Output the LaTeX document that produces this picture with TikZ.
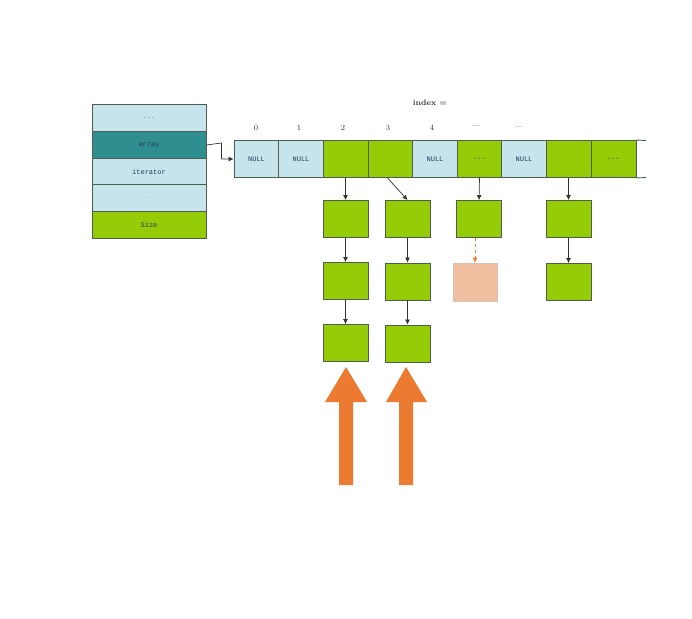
\documentclass[tikz,border=0pt]{standalone}
\usepackage{fontspec}
\setmonofont{Liberation Mono}
\usetikzlibrary{arrows.meta}
\definecolor{lblue}{HTML}{C6E4EC}
\definecolor{teal2}{HTML}{2F8E8E}
\definecolor{lgreen}{HTML}{94CC08}
\definecolor{peach}{HTML}{F0BFA0}
\definecolor{orng}{HTML}{EC7A30}
\definecolor{bord}{HTML}{4E5E4E}
\definecolor{txt}{HTML}{2A3A5A}
\tikzset{
  cellbox/.style={draw=bord, line width=0.9pt, minimum width=45pt, minimum height=37pt, inner sep=0pt, text=txt, font=\ttfamily\fontsize{7}{8}\selectfont},
  stackrow/.style={draw=bord, line width=0.9pt, minimum width=114pt, minimum height=27pt, inner sep=0pt, text=txt, font=\ttfamily\fontsize{7}{8}\selectfont},
  chainbox/.style={draw=bord, line width=0.9pt, fill=lgreen, minimum width=45pt, minimum height=37pt, inner sep=0pt},
  link/.style={draw=black!80, line width=0.7pt, -{Latex[length=5pt,width=5pt]}},
  idx/.style={font=\fontsize{8}{9}\selectfont, text=black!80},
}
\begin{document}
\begin{tikzpicture}[x=1pt,y=-1pt]
\useasboundingbox[fill=white] (0,0) rectangle (692,618);
% left stack
\node[stackrow, fill=lblue] (s1) at (149,117.5) {\textcolor{black!50}{...}};
\node[stackrow, fill=teal2] (s2) at (149,145) {array};
\node[stackrow, fill=lblue] (s3) at (149,172) {iterator};
\node[stackrow, fill=lblue] (s4) at (149,198) {\textcolor{black!25}{...}};
\node[stackrow, fill=lgreen] (s5) at (149,224.5) {Size};
% array cells
\node[cellbox, fill=lblue] (c0) at (256.5,159) {NULL};
\node[cellbox, fill=lblue] (c1) at (301,159) {NULL};
\node[cellbox, fill=lgreen] (c2) at (345.5,159) {};
\node[cellbox, fill=lgreen] (c3) at (390.5,159) {};
\node[cellbox, fill=lblue] (c4) at (435,159) {NULL};
\node[cellbox, fill=lgreen] (c5) at (479.5,159) {---};
\node[cellbox, fill=lblue] (c6) at (524,159) {NULL};
\node[cellbox, fill=lgreen] (c7) at (568.5,159) {};
\node[cellbox, fill=lgreen] (c8) at (613.5,159) {---};
\coordinate (e1) at (646,140.5);
\coordinate (e2) at (646,177.5);
\draw[bord, line width=0.9pt] (c8.north east) -- (e1);
\draw[bord, line width=0.9pt] (c8.south east) -- (e2);
% index labels
\node[idx, font=\bfseries\fontsize{8}{9}\selectfont] (ix) at (430,103) {index =};
\node[idx] (i0) at (256,128) {0};
\node[idx] (i1) at (299,128) {1};
\node[idx] (i2) at (343,128) {2};
\node[idx] (i3) at (388,128) {3};
\node[idx] (i4) at (432,128) {4};
\node[idx] (i5) at (476,127) {---};
\node[idx] (i6) at (519,127) {...};
% chains
\node[chainbox] (a1) at (345.5,219) {};
\node[chainbox] (a2) at (345.5,281) {};
\node[chainbox] (a3) at (345.5,343) {};
\node[chainbox] (b1) at (407.5,219) {};
\node[chainbox] (b2) at (407.5,281.5) {};
\node[chainbox] (b3) at (407.5,343.5) {};
\node[chainbox] (d1) at (479,219) {};
\node[draw=peach!80!black!60, fill=peach, line width=0.6pt, minimum width=44pt, minimum height=38pt, inner sep=0pt] (d2) at (475,282) {};
\node[chainbox] (f1) at (568.5,219) {};
\node[chainbox] (f2) at (568.5,282) {};
% links
\draw[link] (s2.east) -- ++(15,-2) coordinate (k1) |- (c0.west);
\draw[link] (c2.south) -- (a1.north);
\draw[link] (a1.south) -- (a2.north);
\draw[link] (a2.south) -- (a3.north);
\draw[link] ([xshift=-3pt]c3.south) -- (b1.north);
\draw[link] (b1.south) -- (b2.north);
\draw[link] (b2.south) -- (b3.north);
\draw[link, draw=orng, dashed] (d1.south -| d2.north) -- (d2.north);
\draw[link] (c5.south) -- (d1.north);
\draw[link] (c7.south) -- (f1.north);
\draw[link] (f1.south) -- (f2.north);
% big orange arrows
\coordinate (p1) at (346,485);
\coordinate (p2) at (406,485);
\fill[orng] (p1) ++(-7,0) -- ++(0,-83) -- ++(-14,0) -- (346,367) -- (367,402) -- ++(-14,0) -- ++(0,83) -- cycle;
\fill[orng] (p2) ++(-7,0) -- ++(0,-83) -- ++(-13,0) -- (406,367) -- (427,402) -- ++(-14,0) -- ++(0,83) -- cycle;
\end{tikzpicture}
\end{document}
